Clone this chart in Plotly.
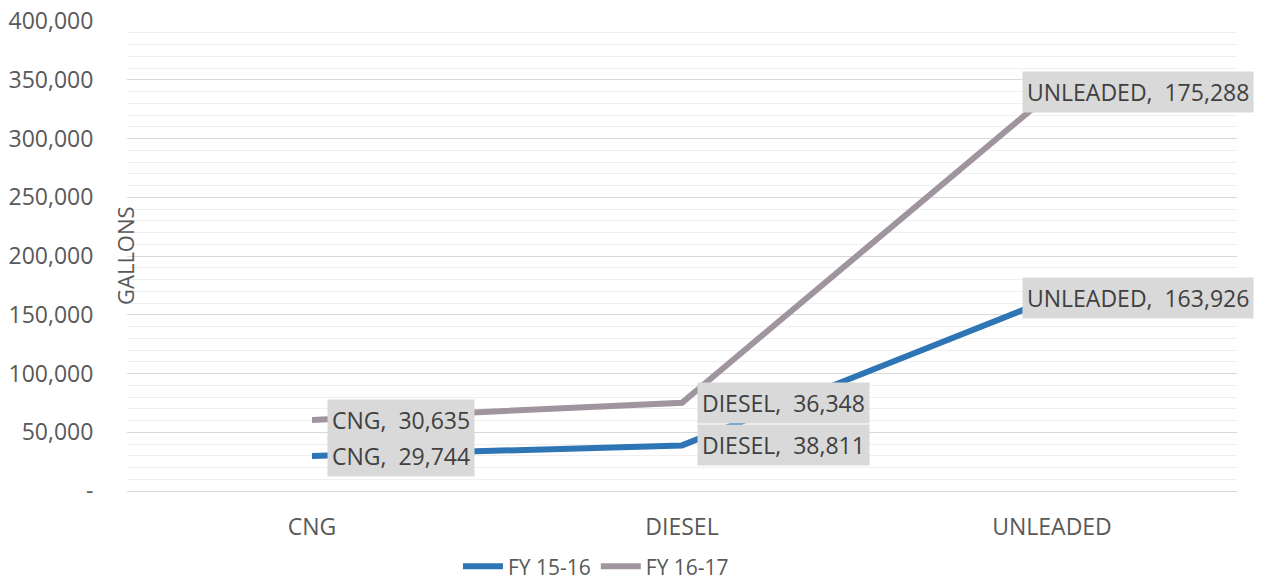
import plotly.graph_objects as go

categories = ["CNG", "DIESEL", "UNLEADED"]
fy1516 = [29744, 38811, 163926]
fy1617 = [30635, 36348, 175288]
series_names = ["FY 15-16", "FY 16-17"]
ytick_vals = [0, 50000, 100000, 150000, 200000, 250000, 300000, 350000, 400000]
ytick_text = ["-", "50,000", "100,000", "150,000", "200,000", "250,000", "300,000", "350,000", "400,000"]

colors = ["#2E75B6", "#A0959F"]
FONT = "Open Sans"

# stacked line chart: cumulative values
stack1 = fy1516
stack2 = [a + b for a, b in zip(fy1516, fy1617)]

fig = go.Figure()
for name, ys, col in zip(series_names, [stack1, stack2], colors):
    fig.add_trace(go.Scatter(x=categories, y=ys, name=name, mode="lines",
                             line=dict(color=col, width=6)))

ann = []
for vals, stacks in [(fy1516, stack1), (fy1617, stack2)]:
    for i, cat in enumerate(categories):
        shift = -30 if i == len(categories) - 1 else 15
        ann.append(dict(x=cat, y=stacks[i], xref="x", yref="y",
                        text=f"{cat},\u00a0\u00a0{vals[i]:,}", showarrow=False,
                        xanchor="left", yanchor="middle", xshift=shift,
                        bgcolor="#D9D9D9", borderpad=4,
                        font=dict(family=FONT, size=23, color="#404040")))
ann.append(dict(x=0, y=0.5, xref="paper", yref="paper", text="GALLONS",
                textangle=-90, showarrow=False, xanchor="center", yanchor="middle",
                xshift=-2, font=dict(family=FONT, size=22, color="#595959")))

fig.update_layout(
    width=1268, height=583,
    margin=dict(l=127, r=31, t=21, b=92),
    paper_bgcolor="white", plot_bgcolor="white",
    font=dict(family=FONT, size=22, color="#595959"),
    annotations=ann,
    showlegend=True,
    legend=dict(orientation="h", x=0.47, xanchor="center", xref="container",
                y=0.028, yanchor="middle", yref="container",
                font=dict(family=FONT, size=21, color="#595959"), itemwidth=40),
    xaxis=dict(range=[-0.5, 2.5], automargin=False, showgrid=False, showline=False,
               ticks="outside", ticklen=15,
               tickcolor="rgba(0,0,0,0)", tickfont=dict(size=23, color="#595959")),
    yaxis=dict(range=[0, 400000], automargin=False, tickvals=ytick_vals, ticktext=ytick_text,
               showgrid=True, gridcolor="#D9D9D9", gridwidth=1,
               zeroline=True, zerolinecolor="#D9D9D9", zerolinewidth=1,
               ticks="outside", ticklen=28, tickcolor="rgba(0,0,0,0)",
               tickfont=dict(size=23, color="#595959"),
               minor=dict(dtick=10000, showgrid=True, gridcolor="#EFEFEF", gridwidth=1)),
)

fig.write_html("out.html", config={"displayModeBar": False},
               post_script="document.body.style.margin='0';")
